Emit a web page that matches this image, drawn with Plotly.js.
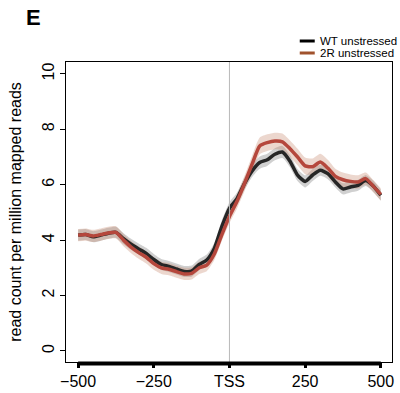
<!DOCTYPE html>
<html><head><meta charset="utf-8">
<script src="https://cdn.plot.ly/plotly-3.0.1.min.js"></script>
<style>body{margin:0;background:#fff}#chart{width:400px;height:393px}</style>
</head><body><div id="chart"></div>
<script>
const positions = [-500,-475,-450,-425,-400,-375,-350,-325,-300,-275,-250,-225,-200,-175,-150,-125,-100,-75,-50,-25,0,25,50,75,100,125,150,175,200,225,250,275,300,325,350,375,400,425,450,475,500];
const wtMean = [4.18,4.2,4.12,4.18,4.25,4.28,4.05,3.85,3.68,3.52,3.3,3.12,3.05,2.96,2.87,2.88,3.12,3.28,3.7,4.5,5.15,5.5,6.05,6.5,6.8,6.9,7.1,7.18,6.85,6.35,6.12,6.35,6.52,6.4,6.1,5.85,5.92,5.98,6.15,5.95,5.62];
const wtErr = [0.2,0.2,0.2,0.2,0.2,0.2,0.2,0.2,0.2,0.2,0.2,0.2,0.2,0.2,0.2,0.2,0.2,0.2,0.2,0.22,0.22,0.22,0.22,0.22,0.22,0.22,0.22,0.22,0.22,0.22,0.22,0.22,0.2,0.2,0.2,0.2,0.2,0.2,0.2,0.2,0.2];
const mutMean = [4.18,4.2,4.15,4.2,4.26,4.28,4.0,3.75,3.55,3.38,3.15,3.0,2.95,2.86,2.78,2.8,3.0,3.1,3.5,4.2,4.85,5.4,6.05,6.75,7.4,7.52,7.58,7.55,7.3,7.0,6.68,6.65,6.82,6.6,6.3,6.18,6.12,6.1,6.22,5.95,5.65];
const mutErr = [0.22,0.22,0.22,0.22,0.22,0.22,0.22,0.22,0.22,0.22,0.22,0.22,0.22,0.22,0.22,0.22,0.22,0.22,0.22,0.22,0.24,0.26,0.28,0.3,0.3,0.3,0.3,0.3,0.3,0.3,0.3,0.3,0.3,0.3,0.28,0.26,0.25,0.24,0.22,0.22,0.22];
const seriesNames = ["WT unstressed","2R unstressed"];
const xTickVals = [-500,-250,0,250,500];
const xTickText = ["\u2212500","\u2212250","TSS","250","500"];
const yTickVals = [0,2,4,6,8,10];

function band(mean, err, fill){
  const up = mean.map((v,i)=>v+err[i]);
  const lo = mean.map((v,i)=>v-err[i]);
  return [
    {x:positions, y:lo, mode:'lines', line:{width:0, shape:'spline', smoothing:0.6}, hoverinfo:'skip', showlegend:false},
    {x:positions, y:up, mode:'lines', line:{width:0, shape:'spline', smoothing:0.6}, fill:'tonexty', fillcolor:fill, hoverinfo:'skip', showlegend:false}
  ];
}
const traces = [
  ...band(wtMean, wtErr, 'rgba(120,120,120,0.35)'),
  ...band(mutMean, mutErr, 'rgba(200,140,115,0.35)'),
  {x:positions, y:wtMean, mode:'lines', name:seriesNames[0], line:{color:'#262626', width:3.5, shape:'spline', smoothing:0.6}, showlegend:false},
  {x:positions, y:mutMean, mode:'lines', name:seriesNames[1], line:{color:'#b5473c', width:3.5, shape:'spline', smoothing:0.6}, showlegend:false}
];
const font = {family:'Liberation Sans, Arial, sans-serif', size:16, color:'#000'};
const layout = {
  width:400, height:393,
  margin:{l:66, r:8, t:62, b:31},
  paper_bgcolor:'#fff', plot_bgcolor:'#fff',
  font: font,
  showlegend:false,
  xaxis:{range:[-540,537], tickvals:xTickVals, ticktext:xTickText, ticks:'outside', ticklen:5, tickwidth:3, tickcolor:'#000',
         showgrid:false, zeroline:false, showline:true, mirror:true, linecolor:'#000', linewidth:1, tickfont:font},
  yaxis:{range:[-0.4,10.43], tickvals:yTickVals, ticks:'outside', ticklen:5, tickwidth:1, tickcolor:'#000', tickangle:-90,
         showgrid:false, zeroline:false, showline:true, mirror:true, linecolor:'#000', linewidth:1, tickfont:font,
         title:{text:'read count per million mapped reads', font:font, standoff:13}},
  shapes:[
    {type:'line', xref:'x', yref:'paper', x0:0, x1:0, y0:0, y1:1, line:{color:'#b8b8b8', width:1}},
    {type:'line', xref:'x', yref:'paper', x0:-500, x1:500, y0:-0.005, y1:-0.005, line:{color:'#000', width:4}},
    {type:'line', xref:'paper', yref:'paper', x0:0.717, x1:0.763, y0:1.07, y1:1.07, line:{color:'#000', width:3}},
    {type:'line', xref:'paper', yref:'paper', x0:0.717, x1:0.763, y0:1.03, y1:1.03, line:{color:'#a0522d', width:3}}
  ],
  annotations:[
    {text:'<b>E</b>', xref:'paper', yref:'paper', x:-0.128, y:1.15, xanchor:'left', yanchor:'middle', showarrow:false, font:{family:'Liberation Sans, Arial, sans-serif', size:22, color:'#000'}},
    {text:seriesNames[0], xref:'paper', yref:'paper', x:0.772, y:1.07, xanchor:'left', yanchor:'middle', showarrow:false, font:{family:'Liberation Sans, Arial, sans-serif', size:11.5, color:'#000'}},
    {text:seriesNames[1], xref:'paper', yref:'paper', x:0.772, y:1.03, xanchor:'left', yanchor:'middle', showarrow:false, font:{family:'Liberation Sans, Arial, sans-serif', size:11.5, color:'#000'}}
  ]
};
Plotly.newPlot('chart', traces, layout, {staticPlot:true, displayModeBar:false});
</script></body></html>
